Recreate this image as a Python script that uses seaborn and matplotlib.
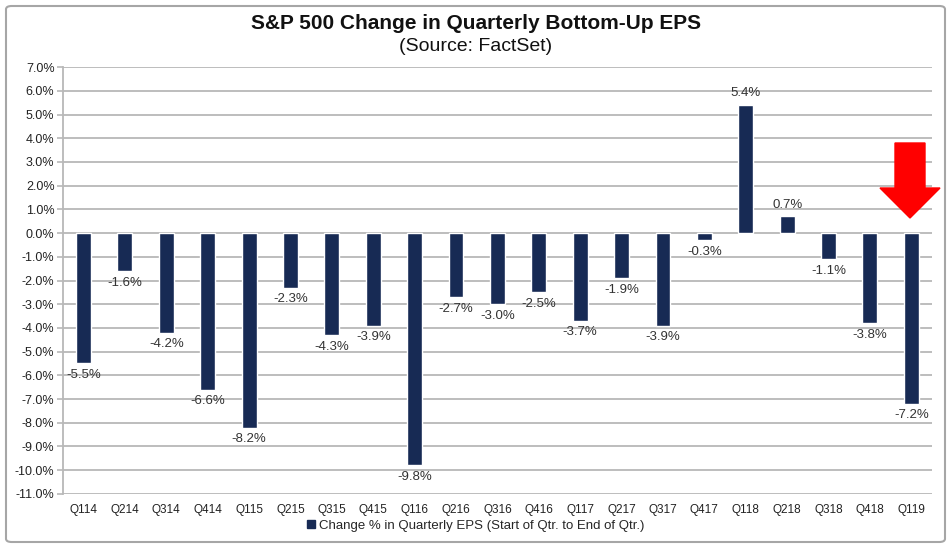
import matplotlib
matplotlib.use("Agg")
import matplotlib.pyplot as plt
from matplotlib.patches import FancyBboxPatch, FancyArrow, Patch
import numpy as np
import pandas as pd
import seaborn as sns

quarters = ["Q114", "Q214", "Q314", "Q414", "Q115", "Q215", "Q315", "Q415",
            "Q116", "Q216", "Q316", "Q416", "Q117", "Q217", "Q317", "Q417",
            "Q118", "Q218", "Q318", "Q418", "Q119"]
eps_change = [-5.5, -1.6, -4.2, -6.6, -8.2, -2.3, -4.3, -3.9,
              -9.8, -2.7, -3.0, -2.5, -3.7, -1.9, -3.9, -0.3,
              5.4, 0.7, -1.1, -3.8, -7.2]
y_ticks = np.arange(-11, 8, 1)

bar_color = "#172a54"
grid_color = "#b8b8b8"

sns.set_theme(style="white")
plt.rcParams["font.family"] = ["Liberation Sans", "DejaVu Sans"]
font = ["Liberation Sans", "DejaVu Sans"]

df = pd.DataFrame({"quarter": quarters, "change": eps_change})

fig = plt.figure(figsize=(9.52, 5.5), dpi=100)
ax = fig.add_axes([0.066, 0.102, 0.913, 0.776])

sns.barplot(data=df, x="quarter", y="change", color=bar_color,
            saturation=1, width=0.36, ax=ax, zorder=3)

ax.set_ylim(-11, 7)
ax.set_yticks(y_ticks)
ax.set_yticklabels([f"{v:.1f}%" for v in y_ticks], fontsize=9, family=font)
ax.set_xticks(range(len(quarters)))
ax.set_xticklabels(quarters, fontsize=8.5, family=font)
ax.set_xlim(-0.5, len(quarters) - 0.5)
ax.set_xlabel("")
ax.set_ylabel("")

for y in y_ticks:
    ax.axhline(y, color=grid_color, lw=1.3, zorder=1)

for s in ["top", "right", "bottom"]:
    ax.spines[s].set_visible(False)
ax.spines["left"].set_color(grid_color)
ax.spines["left"].set_linewidth(1.3)
ax.tick_params(axis="y", length=4, color=grid_color, width=1.2, left=True, pad=2,
               labelcolor="#222222")
ax.tick_params(axis="x", length=0, pad=7, labelcolor="#222222")

# data labels
for i, v in enumerate(eps_change):
    if v >= 0:
        ax.annotate(f"{v:.1f}%", (i, v), xytext=(0, 4), textcoords="offset points",
                    ha="center", va="bottom", fontsize=9.5, color="#333333", family=font)
    else:
        ax.annotate(f"{v:.1f}%", (i, v), xytext=(0, -4), textcoords="offset points",
                    ha="center", va="top", fontsize=9.5, color="#333333", family=font)

fig.text(0.5, 0.958, "S&P 500 Change in Quarterly Bottom-Up EPS", ha="center", va="center",
         fontsize=15, fontweight="bold", color="#111111")
fig.text(0.5, 0.916, "(Source: FactSet)", ha="center", va="center",
         fontsize=14, color="#111111")

handle = Patch(facecolor=bar_color, edgecolor=bar_color)
fig.legend([handle], ["Change % in Quarterly EPS (Start of Qtr. to End of Qtr.)"],
           loc="center", bbox_to_anchor=(0.5, 0.044), frameon=False,
           handlelength=0.6, handleheight=0.6, handletextpad=0.3,
           prop={"family": font, "size": 9.5})

# red arrow pointing at the last bar
arrow = FancyArrow(910 / 952, 1 - 143 / 550, 0, -(218 - 143) / 550,
                   width=30 / 952, head_width=60 / 952, head_length=30 / 550,
                   length_includes_head=True, color="#ff0000",
                   transform=fig.transFigure, zorder=10)
fig.add_artist(arrow)

# chart frame
frame = FancyBboxPatch((6 / 952, 8 / 550), 939 / 952, 536 / 550,
                       boxstyle="round,pad=0,rounding_size=0.006",
                       transform=fig.transFigure, fill=False,
                       edgecolor="#a6a6a6", linewidth=1.5)
fig.add_artist(frame)

fig.savefig("out.png", dpi=100)
